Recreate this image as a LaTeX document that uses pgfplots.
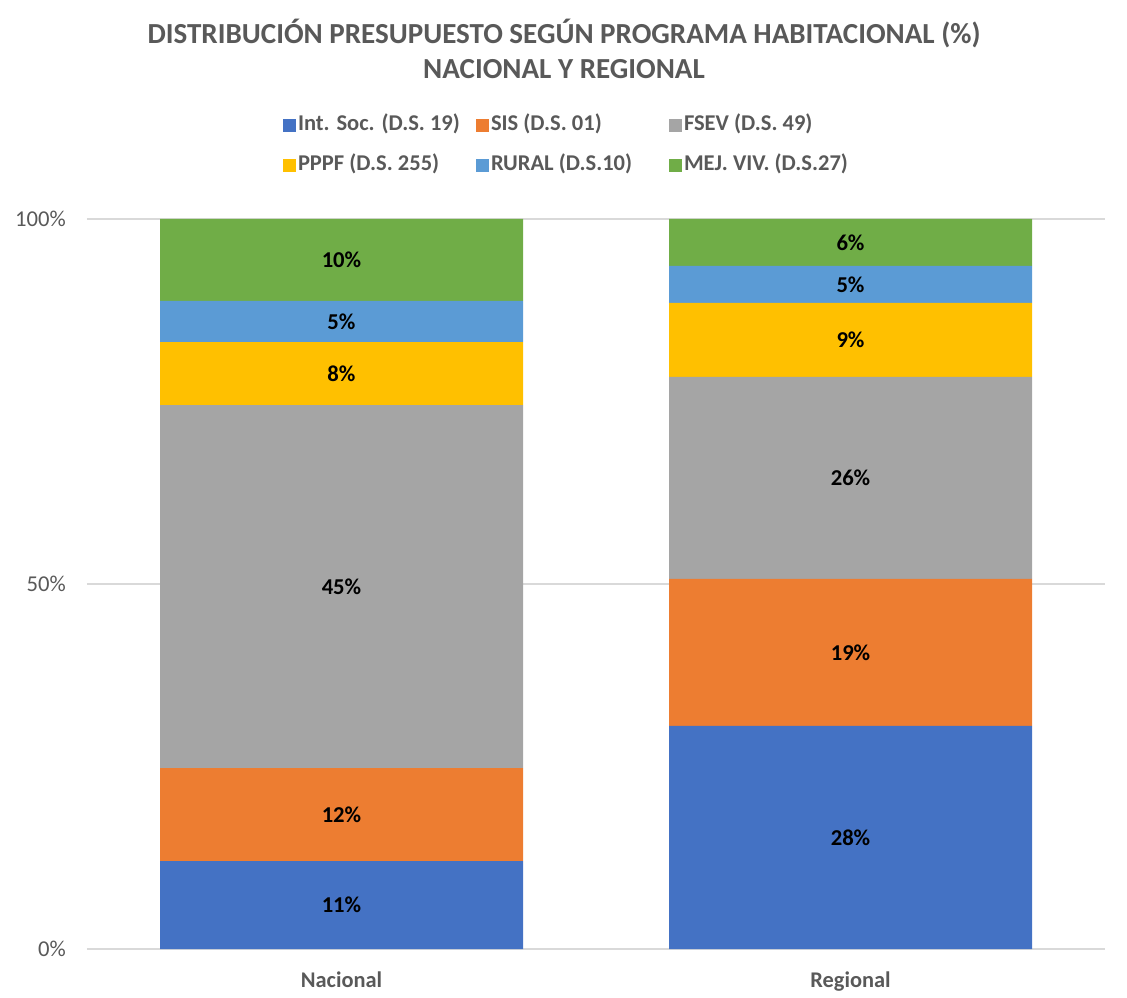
\documentclass[border=0pt]{standalone}
\usepackage{pgfplots}
\pgfplotsset{compat=1.18}
\usepackage{pgfplotstable}
\usepackage{fontspec}
\setmainfont{Carlito}
\newlength\pxu \setlength\pxu{0.75pt}
\definecolor{cIS}{HTML}{4472C4}
\definecolor{cSIS}{HTML}{ED7D31}
\definecolor{cFSEV}{HTML}{A5A5A5}
\definecolor{cPPPF}{HTML}{FFC000}
\definecolor{cRUR}{HTML}{5B9BD5}
\definecolor{cMEJ}{HTML}{70AD47}
\definecolor{txt}{HTML}{595959}
\definecolor{gridc}{HTML}{D9D9D9}

\pgfplotstableread{
x is sis fsev pppf rural mej lis lsis lfsev lpppf lrural lmej
0 12.05 12.74 49.73 8.63 5.62 11.23 11 12 45 8 5 10
1 30.55 20.14 27.67 10.14 5.07 6.43 28 19 26 9 5 6
}\data

\pgfplotsset{
  seg/.style={
    fill=#1, draw=none,
    point meta=explicit symbolic,
  },
}

\begin{document}
\begin{tikzpicture}
\begin{axis}[
  name=ax,
  scale only axis, width=1018\pxu, height=730\pxu,
  ybar stacked, bar width=363\pxu,
  xmin=-0.5, xmax=1.5, ymin=0, ymax=100,
  enlarge x limits=false, enlarge y limits=false,
  xtick={0,1}, xticklabels={Nacional,Regional},
  ytick={0,50,100}, yticklabels={0\%,50\%,100\%},
  axis line style={draw=none},
  major tick length=0pt,
  ymajorgrids, grid style={gridc, line width=1.5\pxu},
  xticklabel style={font=\fontsize{16.8pt}{20pt}\selectfont\bfseries, text=txt, anchor=base, inner sep=0pt, yshift=-38\pxu},
  yticklabel style={font=\fontsize{17pt}{20pt}\selectfont, text=txt, anchor=east, inner sep=0pt, xshift=-21\pxu},
  title={DISTRIBUCIÓN PRESUPUESTO SEGÚN PROGRAMA HABITACIONAL (\%)\\NACIONAL Y REGIONAL},
  title style={at={(0.4686,1.2219)}, anchor=center, align=center,
    font=\fontsize{21.8pt}{26.3pt}\selectfont\bfseries, text=txt},
  nodes near coords={\pgfplotspointmeta\%},
  every node near coord/.append style={font=\fontsize{17pt}{20pt}\selectfont\bfseries, text=black, anchor=center, inner sep=0pt},
  legend columns=3,
  legend cell align=left,
  legend image code/.code={\fill[#1,draw=none] (0pt,-6.5\pxu) rectangle (13\pxu,6.5\pxu);},
  legend style={draw=none, fill=none, at={(0.19253,1.1452)}, anchor=north west, inner sep=0pt, outer sep=0pt,
    font=\fontsize{16.9pt}{20pt}\selectfont\bfseries, text=txt,
    column sep=0pt, row sep=16\pxu,
    nodes={inner sep=2\pxu, text height=15\pxu, text depth=5\pxu},
    /tikz/every even column/.append style={column sep=4\pxu}},
]
\addplot+[seg=cIS] table[x=x, y=is, meta=lis] {\data};
\addlegendentry{\makebox[172\pxu][l]{Int. Soc. (D.S. 19)}}
\addplot+[seg=cSIS] table[x=x, y=sis, meta=lsis] {\data};
\addlegendentry{\makebox[172\pxu][l]{SIS (D.S. 01)}}
\addplot+[seg=cFSEV] table[x=x, y=fsev, meta=lfsev] {\data};
\addlegendentry{\makebox[172\pxu][l]{FSEV (D.S. 49)}}
\addplot+[seg=cPPPF] table[x=x, y=pppf, meta=lpppf] {\data};
\addlegendentry{\makebox[172\pxu][l]{PPPF (D.S. 255)}}
\addplot+[seg=cRUR] table[x=x, y=rural, meta=lrural] {\data};
\addlegendentry{\makebox[172\pxu][l]{RURAL (D.S.10)}}
\addplot+[seg=cMEJ] table[x=x, y=mej, meta=lmej] {\data};
\addlegendentry{\makebox[172\pxu][l]{MEJ. VIV. (D.S.27)}}
\end{axis}
\pgfresetboundingbox
\path[use as bounding box] (ax.south west) ++(-87\pxu,-48\pxu) rectangle ++(1127\pxu,997\pxu);
\end{tikzpicture}
\end{document}
